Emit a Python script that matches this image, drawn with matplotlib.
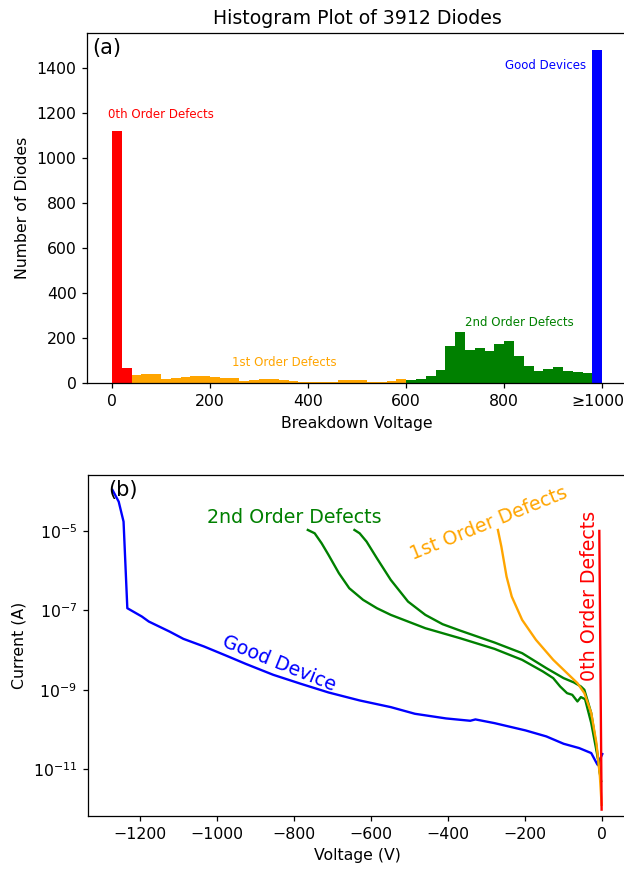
import numpy as np
import matplotlib
matplotlib.use("Agg")
import matplotlib.pyplot as plt
import matplotlib.transforms as mtransforms

# ---------------- Histogram data (bin width 20 V) ----------------
bin_width = 20
red_edges = [0, 20]
red_counts = [1121, 69]
orange_edges = list(range(40, 600, 20))
orange_counts = [36, 43, 43, 18, 24, 30, 34, 34, 28, 22, 22, 10, 16, 21, 21,
                 13, 10, 7, 7, 7, 7, 13, 13, 13, 6, 6, 12, 18]
green_edges = list(range(600, 980, 20))
green_counts = [17, 19, 33, 58, 166, 226, 150, 158, 145, 175, 189, 123, 77,
                53, 65, 72, 55, 52, 47]
blue_edges = [980]
blue_counts = [1480]
hist_ticks = [0, 200, 400, 600, 800, 1000]
hist_ticklabels = ["0", "200", "400", "600", "800", "≥1000"]

# ---------------- I-V curves ----------------
good_v = [-1271.9, -1255.7, -1243.1, -1233.3, -1195.5, -1177.5, -1123.6, -1087.6,
          -1033.7, -970.8, -925.8, -853.9, -782.0, -710.1, -629.2, -548.3, -485.4,
          -404.5, -341.6, -328.1, -278.7, -197.8, -143.8, -98.9, -58.4, -27.0,
          -10.8, 1.8]
good_logi = [-3.968, -4.262, -4.765, -6.946, -7.156, -7.282, -7.534, -7.718,
             -7.911, -8.163, -8.347, -8.624, -8.851, -9.069, -9.270, -9.438, -9.606,
             -9.723, -9.782, -9.748, -9.841, -10.025, -10.176, -10.361, -10.470,
             -10.596, -10.889, -10.621]

second_a_v = [-764.0, -746.1, -728.1, -710.1, -683.1, -656.2, -620.2, -584.3,
              -548.3, -503.4, -458.4, -368.5, -278.7, -206.7, -152.8, -125.8,
              -107.9, -89.9, -76.4, -62.9, -53.9, -43.1, -27.0, -9.0, -1.8]
second_a_logi = [-4.975, -5.059, -5.310, -5.604, -6.065, -6.443, -6.736, -6.946,
                 -7.114, -7.282, -7.450, -7.701, -7.970, -8.247, -8.540, -8.708,
                 -8.918, -9.086, -9.128, -9.295, -9.186, -9.237, -9.841, -10.763,
                 -11.30]

second_b_v = [-642.7, -629.2, -611.2, -584.3, -548.3, -503.4, -458.4, -413.5,
              -368.5, -278.7, -206.7, -143.8, -98.9, -71.9, -53.9, -44.9, -27.0,
              -13.5, -1.5]
second_b_logi = [-4.975, -5.059, -5.268, -5.688, -6.233, -6.779, -7.114, -7.349,
                 -7.508, -7.810, -8.079, -8.456, -8.708, -8.817, -8.918, -9.002,
                 -9.589, -10.428, -11.30]

first_v = [-269.7, -260.7, -247.2, -233.7, -206.7, -170.8, -125.8, -89.9, -62.9,
           -44.9, -27.0, -13.5, -4.5, 0.0]
first_logi = [-4.975, -5.394, -6.149, -6.653, -7.240, -7.743, -8.247, -8.582,
              -8.834, -9.086, -9.589, -10.344, -11.183, -11.90]

zeroth_v = [-6.0, 0.0]
zeroth_logi = [-5.0, -12.02]

# ---------------- Styling ----------------
S = 1.13
plt.rcParams.update({
    "axes.linewidth": 0.8 * S,
    "xtick.major.width": 0.8 * S,
    "ytick.major.width": 0.8 * S,
    "xtick.major.size": 3.5 * S,
    "ytick.major.size": 3.5 * S,
    "xtick.major.pad": 3.5 * S,
    "ytick.major.pad": 3.5 * S,
})
TICK = 10 * S
LAB = 10 * S

fig = plt.figure(figsize=(6.24, 8.77), dpi=100)
ax1 = fig.add_axes([0.1402, 0.5629, 0.8643, 0.3991])
ax2 = fig.add_axes([0.1410, 0.0696, 0.8635, 0.3888])

for edges, counts, col in [(red_edges, red_counts, "red"),
                           (orange_edges, orange_counts, "orange"),
                           (green_edges, green_counts, "green"),
                           (blue_edges, blue_counts, "blue")]:
    ax1.bar(edges, counts, width=bin_width, align="edge", color=col,
            linewidth=0)

ax1.set_xlim(-50, 1050)
ax1.set_xticks(hist_ticks)
ax1.set_xticklabels(hist_ticklabels)
ax1.set_xlabel("Breakdown Voltage", fontsize=LAB, labelpad=4 * S)
ax1.set_ylabel("Number of Diodes", fontsize=LAB, labelpad=4 * S)
ax1.set_title("Histogram Plot of 3912 Diodes", fontsize=12 * S, pad=6 * S)
ax1.tick_params(labelsize=TICK)
last = ax1.get_xticklabels()[-1]
last.set_transform(last.get_transform() +
                   mtransforms.ScaledTranslation(-4.5 / 100, 0, fig.dpi_scale_trans))
ax1.text(0.008, 0.988, "(a)", transform=ax1.transAxes, fontsize=15,
         ha="left", va="top")
ax1.text(100, 1194, "0th Order Defects", color="red", fontsize=8.5,
         ha="center", va="center")
ax1.text(968, 1412, "Good Devices", color="blue", fontsize=8.5,
         ha="right", va="center")
ax1.text(351, 91, "1st Order Defects", color="orange", fontsize=8.5,
         ha="center", va="center")
ax1.text(830, 269, "2nd Order Defects", color="green", fontsize=8.5,
         ha="center", va="center")

lw = 1.5 * S
ax2.plot(good_v, 10 ** np.array(good_logi), color="blue", lw=lw)
ax2.plot(second_a_v, 10 ** np.array(second_a_logi), color="green", lw=lw)
ax2.plot(second_b_v, 10 ** np.array(second_b_logi), color="green", lw=lw)
ax2.plot(first_v, 10 ** np.array(first_logi), color="orange", lw=lw)
ax2.plot(zeroth_v, 10 ** np.array(zeroth_logi), color="red", lw=lw)
ax2.set_yscale("log")
ax2.set_ylim(10 ** -12.18, 10 ** -3.59)
ax2.set_yticks([1e-11, 1e-9, 1e-7, 1e-5])
ax2.minorticks_off()
ax2.set_xlabel("Voltage (V)", fontsize=LAB, labelpad=4 * S)
ax2.set_ylabel("Current (A)", fontsize=LAB, labelpad=4 * S)
ax2.tick_params(labelsize=TICK)
ax2.text(0.065, 0.956, "(b)", transform=ax2.transAxes, fontsize=15,
         ha="center", va="center")
ax2.text(-800, 10 ** -4.655, "2nd Order Defects", color="green", fontsize=13.7,
         ha="center", va="center")
ax2.text(-294, 10 ** -4.81, "1st Order Defects", color="orange", fontsize=13.7,
         ha="center", va="center", rotation=22, rotation_mode="anchor")
ax2.text(-840, 10 ** -8.33, "Good Device", color="blue", fontsize=13.7,
         ha="center", va="center", rotation=-22, rotation_mode="anchor")
ax2.text(-32, 10 ** -6.64, "0th Order Defects", color="red", fontsize=13.7,
         ha="center", va="center", rotation=90, rotation_mode="anchor")

fig.savefig("out.png", dpi=100)
